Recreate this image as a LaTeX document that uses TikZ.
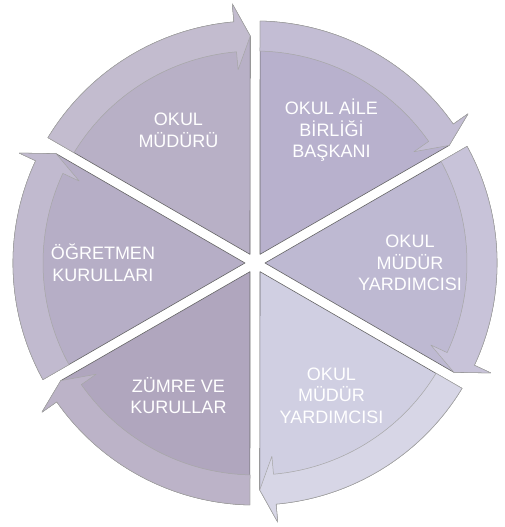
\documentclass[tikz,border=0pt]{standalone}
\usepackage{fontspec}
\setmainfont{Liberation Sans}
\usetikzlibrary{positioning}

\definecolor{segA}{RGB}{184,176,198}
\definecolor{segB}{RGB}{184,177,205}
\definecolor{segC}{RGB}{190,185,210}
\definecolor{segD}{RGB}{208,207,226}
\definecolor{segE}{RGB}{176,166,190}
\definecolor{segF}{RGB}{182,174,198}

\begin{document}
\begin{tikzpicture}[x=1pt, y=1pt,
        segedge/.style={draw=black!60, line width=0.6pt, line join=round},
        bandedge/.style={draw=black!35, line width=0.5pt, line join=round},
        segtext/.style={text=white, align=center, font=\fontsize{18}{21.5}\selectfont}
    ]
    \useasboundingbox (-255,263) rectangle (249,-264);

    \foreach \a/\c in {150/segA, 90/segB, 30/segC, -30/segD, -90/segE, -150/segF} {
        \pgfmathsetmacro\b{\a-60}
        \pgfmathsetmacro\m{\a-30}
        \filldraw[segedge, fill=\c] (\m:10) -- ({\a-1.2}:242)
            arc[start angle=\a-1.2, end angle=\b+5, radius=242]
            -- ({\b+5}:260) -- ({\b+1.2}:227) -- cycle;
        \filldraw[bandedge, fill=\c!85!white] ({\a-1.2}:242)
            arc[start angle=\a-1.2, end angle=\b+5, radius=242]
            -- ({\b+5}:260) -- ({\b+1.2}:227) -- ({\b+5}:194) -- ({\b+5}:212)
            arc[start angle=\b+5, end angle=\a-1.35, radius=212] -- cycle;
    }

    \node[segtext] (mudur) at (120:153) {OKUL\\MÜDÜRÜ};
    \node[segtext] (aile) at (60:153) {OKUL AİLE\\BİRLİĞİ\\BAŞKANI};
    \node[segtext] (yard1) at (0:155) {OKUL\\MÜDÜR\\YARDIMCISI};
    \node[segtext] (yard2) at (-60:153) {OKUL\\MÜDÜR\\YARDIMCISI};
    \node[segtext] (zumre) at (-120:153) {ZÜMRE VE\\KURULLAR};
    \node[segtext] (ogrt) at (180:152) {ÖĞRETMEN\\KURULLARI};
\end{tikzpicture}
\end{document}
